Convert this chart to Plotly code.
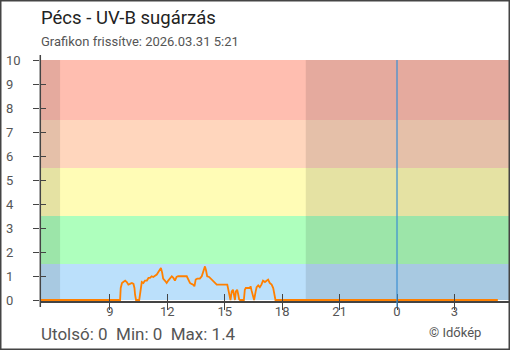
import plotly.graph_objects as go

# ---- data ----
times = [
    "2026-03-30 05:21", "2026-03-30 09:32", "2026-03-30 09:34", "2026-03-30 09:38", "2026-03-30 09:42",
    "2026-03-30 09:48", "2026-03-30 09:53", "2026-03-30 09:58", "2026-03-30 10:03", "2026-03-30 10:09",
    "2026-03-30 10:14", "2026-03-30 10:17", "2026-03-30 10:19", "2026-03-30 10:22", "2026-03-30 10:32",
    "2026-03-30 10:35", "2026-03-30 10:38", "2026-03-30 10:40", "2026-03-30 10:45", "2026-03-30 10:50",
    "2026-03-30 10:56", "2026-03-30 11:01", "2026-03-30 11:06", "2026-03-30 11:11", "2026-03-30 11:16",
    "2026-03-30 11:21", "2026-03-30 11:27", "2026-03-30 11:32", "2026-03-30 11:37", "2026-03-30 11:40",
    "2026-03-30 11:44", "2026-03-30 11:47", "2026-03-30 11:53", "2026-03-30 11:58", "2026-03-30 12:03",
    "2026-03-30 12:08", "2026-03-30 12:14", "2026-03-30 12:19", "2026-03-30 12:24", "2026-03-30 12:29",
    "2026-03-30 12:34", "2026-03-30 13:01", "2026-03-30 13:06", "2026-03-30 13:11", "2026-03-30 13:16",
    "2026-03-30 13:21", "2026-03-30 13:25", "2026-03-30 13:29", "2026-03-30 13:34", "2026-03-30 13:42",
    "2026-03-30 13:48", "2026-03-30 13:53", "2026-03-30 13:58", "2026-03-30 14:01", "2026-03-30 14:05",
    "2026-03-30 14:11", "2026-03-30 14:17", "2026-03-30 14:22", "2026-03-30 14:29", "2026-03-30 14:35",
    "2026-03-30 15:08", "2026-03-30 15:11", "2026-03-30 15:14", "2026-03-30 15:18", "2026-03-30 15:22",
    "2026-03-30 15:26", "2026-03-30 15:29", "2026-03-30 15:32", "2026-03-30 15:35", "2026-03-30 15:39",
    "2026-03-30 15:42", "2026-03-30 15:45", "2026-03-30 15:48", "2026-03-30 16:00", "2026-03-30 16:03",
    "2026-03-30 16:06", "2026-03-30 16:19", "2026-03-30 16:21", "2026-03-30 16:24", "2026-03-30 16:29",
    "2026-03-30 16:32", "2026-03-30 16:37", "2026-03-30 16:40", "2026-03-30 16:45", "2026-03-30 16:50",
    "2026-03-30 16:55", "2026-03-30 17:00", "2026-03-30 17:06", "2026-03-30 17:11", "2026-03-30 17:16",
    "2026-03-30 17:21", "2026-03-30 17:27", "2026-03-30 17:32", "2026-03-30 17:35", "2026-03-30 17:39",
    "2026-03-31 05:16",
]
uvb = [
    0, 0, 0.5, 0.71, 0.75,
    0.81, 0.75, 0.64, 0.67, 0.71,
    0.67, 0.5, 0.22, 0, 0,
    0.32, 0.67, 0.75, 0.71, 0.81,
    0.81, 0.92, 0.92, 0.99, 0.96,
    0.99, 1.06, 1.17, 1.26, 1.33,
    1.13, 0.89, 0.8, 0.71, 0.81,
    0.89, 0.99, 0.92, 0.81, 0.96,
    0.99, 0.99, 0.85, 0.71, 0.67,
    0.64, 0.57, 0.85, 0.89, 0.89,
    0.99, 1.19, 1.4, 1.26, 0.99,
    0.96, 0.89, 0.8, 0.71, 0.64,
    0.64, 0.39, 0.15, 0, 0.36,
    0.43, 0.22, 0, 0.36, 0.43,
    0.25, 0.03, 0, 0, 0.43,
    0.5, 0.5, 0.57, 0.4, 0.08,
    0, 0.36, 0.53, 0.61, 0.53,
    0.64, 0.81, 0.75, 0.81, 0.85,
    0.71, 0.64, 0.5, 0.22, 0,
    0,
]

x_range = ["2026-03-30 05:21", "2026-03-31 05:51"]
y_range = [-1 / 24, 10]
tick_vals = ["2026-03-30 09:00", "2026-03-30 12:00", "2026-03-30 15:00", "2026-03-30 18:00",
             "2026-03-30 21:00", "2026-03-31 00:00", "2026-03-31 03:00"]
tick_text = ["9", "12", "15", "18", "21", "0", "3"]
y_ticks = [0, 1, 2, 3, 4, 5, 6, 7, 8, 9, 10]

band_edges = [0, 1.5, 3.5, 5.5, 7.5, 10]
band_colors = ["#bbe0fb", "#aeffbd", "#fffcb6", "#ffd6bd", "#ffbeb0"]
night_periods = [("2026-03-30 05:21", "2026-03-30 06:24"), ("2026-03-30 19:14", "2026-03-31 05:51")]
midnight = "2026-03-31 00:00"

title = "Pécs - UV-B sugárzás"
subtitle = "Grafikon frissítve: 2026.03.31 5:21"
stats = "Utolsó: 0  Min: 0  Max: 1.4"
credit = "© Időkép"

# ---- geometry ----
W, H = 510, 350
ML, MR, MT, MB = 40, 1, 60, 49
PW, PH = W - ML - MR, H - MT - MB
BOTTOM = H - MB


def px_x(px):
    return (px - ML) / PW


def px_y(py):
    return (BOTTOM - py) / PH


FONT = "Roboto"
AX = "#444444"
TXT = "#555555"

fig = go.Figure()
fig.add_trace(go.Scatter(
    x=times, y=uvb, mode="lines",
    line=dict(color="#ff8000", width=1.8),
    showlegend=False, hoverinfo="skip",
))
# carrier for the overlay axes (inside tick halves)
fig.add_trace(go.Scatter(x=[midnight], y=[5], xaxis="x2", yaxis="y2", mode="markers",
                         marker=dict(opacity=0), showlegend=False, hoverinfo="skip"))

shapes = []
for i, c in enumerate(band_colors):
    shapes.append(dict(type="rect", xref="paper", yref="y", x0=0, x1=1,
                       y0=band_edges[i], y1=band_edges[i + 1],
                       fillcolor=c, line=dict(width=0), layer="below"))
for a, b in night_periods:
    shapes.append(dict(type="rect", xref="x", yref="y", x0=a, x1=b, y0=0, y1=10,
                       fillcolor="rgba(0,0,0,0.1)", line=dict(width=0), layer="below"))
# midnight marker
shapes.append(dict(type="line", xref="x", yref="paper", x0=midnight, x1=midnight,
                   y0=px_y(307), y1=px_y(60), line=dict(color="#3b8fd3", width=1.2), layer="above"))
# y axis line (extends slightly beyond plot)
shapes.append(dict(type="line", xref="paper", yref="paper", x0=px_x(40.3), x1=px_x(40.3),
                   y0=px_y(307), y1=px_y(55), line=dict(color=AX, width=1.5), layer="above"))
# outer frame
shapes.append(dict(type="rect", xref="paper", yref="paper",
                   x0=px_x(0.75), x1=px_x(509.25), y0=px_y(349.25), y1=px_y(0.75),
                   line=dict(color=AX, width=1.5), fillcolor="rgba(0,0,0,0)", layer="above"))

annotations = [
    dict(text=title, xref="paper", yref="paper", x=px_x(39), y=px_y(18.5), xanchor="left",
         yanchor="middle", showarrow=False, font=dict(family=FONT, size=18.5, color="#222222")),
    dict(text=subtitle, xref="paper", yref="paper", x=px_x(39), y=px_y(41), xanchor="left",
         yanchor="middle", showarrow=False, font=dict(family=FONT, size=13, color=TXT)),
    dict(text=stats, xref="paper", yref="paper", x=px_x(39), y=px_y(334), xanchor="left",
         yanchor="middle", showarrow=False, font=dict(family=FONT, size=17, color=TXT)),
    dict(text=credit, xref="paper", yref="paper", x=px_x(483), y=px_y(332), xanchor="right",
         yanchor="middle", showarrow=False, font=dict(family=FONT, size=13, color=TXT)),
]
for v in y_ticks:
    annotations.append(dict(text=str(v), xref="paper", yref="y", x=px_x(4), y=v,
                            xanchor="left", yanchor="middle", showarrow=False,
                            font=dict(family=FONT, size=13, color=TXT)))

fig.update_layout(
    width=W, height=H,
    margin=dict(l=ML, r=MR, t=MT, b=MB),
    paper_bgcolor="white", plot_bgcolor="white",
    font=dict(family=FONT, size=13, color=TXT),
    xaxis=dict(type="date", range=x_range, tickmode="array", tickvals=tick_vals, ticktext=tick_text,
               showgrid=False, zeroline=False, showline=True, linecolor=AX, linewidth=1.5,
               ticks="outside", ticklen=7, tickwidth=1.3, tickcolor=AX, layer="below traces",
               ticklabelstandoff=-9,
               tickfont=dict(family=FONT, size=13, color=TXT)),
    yaxis=dict(range=y_range, tickmode="array", tickvals=y_ticks, showticklabels=False,
               showgrid=False, zeroline=False, showline=False,
               ticks="outside", ticklen=6, tickwidth=1.3, tickcolor=AX),
    xaxis2=dict(type="date", overlaying="x", anchor="y", range=x_range, tickmode="array",
                tickvals=tick_vals, showticklabels=False, showgrid=False, zeroline=False,
                showline=False, ticks="inside", ticklen=7, tickwidth=1.3, tickcolor=AX),
    yaxis2=dict(overlaying="y", anchor="x", side="left", range=y_range, tickmode="array",
                tickvals=y_ticks, showticklabels=False, showgrid=False, zeroline=False,
                showline=False, ticks="inside", ticklen=6, tickwidth=1.3, tickcolor=AX),
    shapes=shapes, annotations=annotations,
)

fig.write_html("out.html")
